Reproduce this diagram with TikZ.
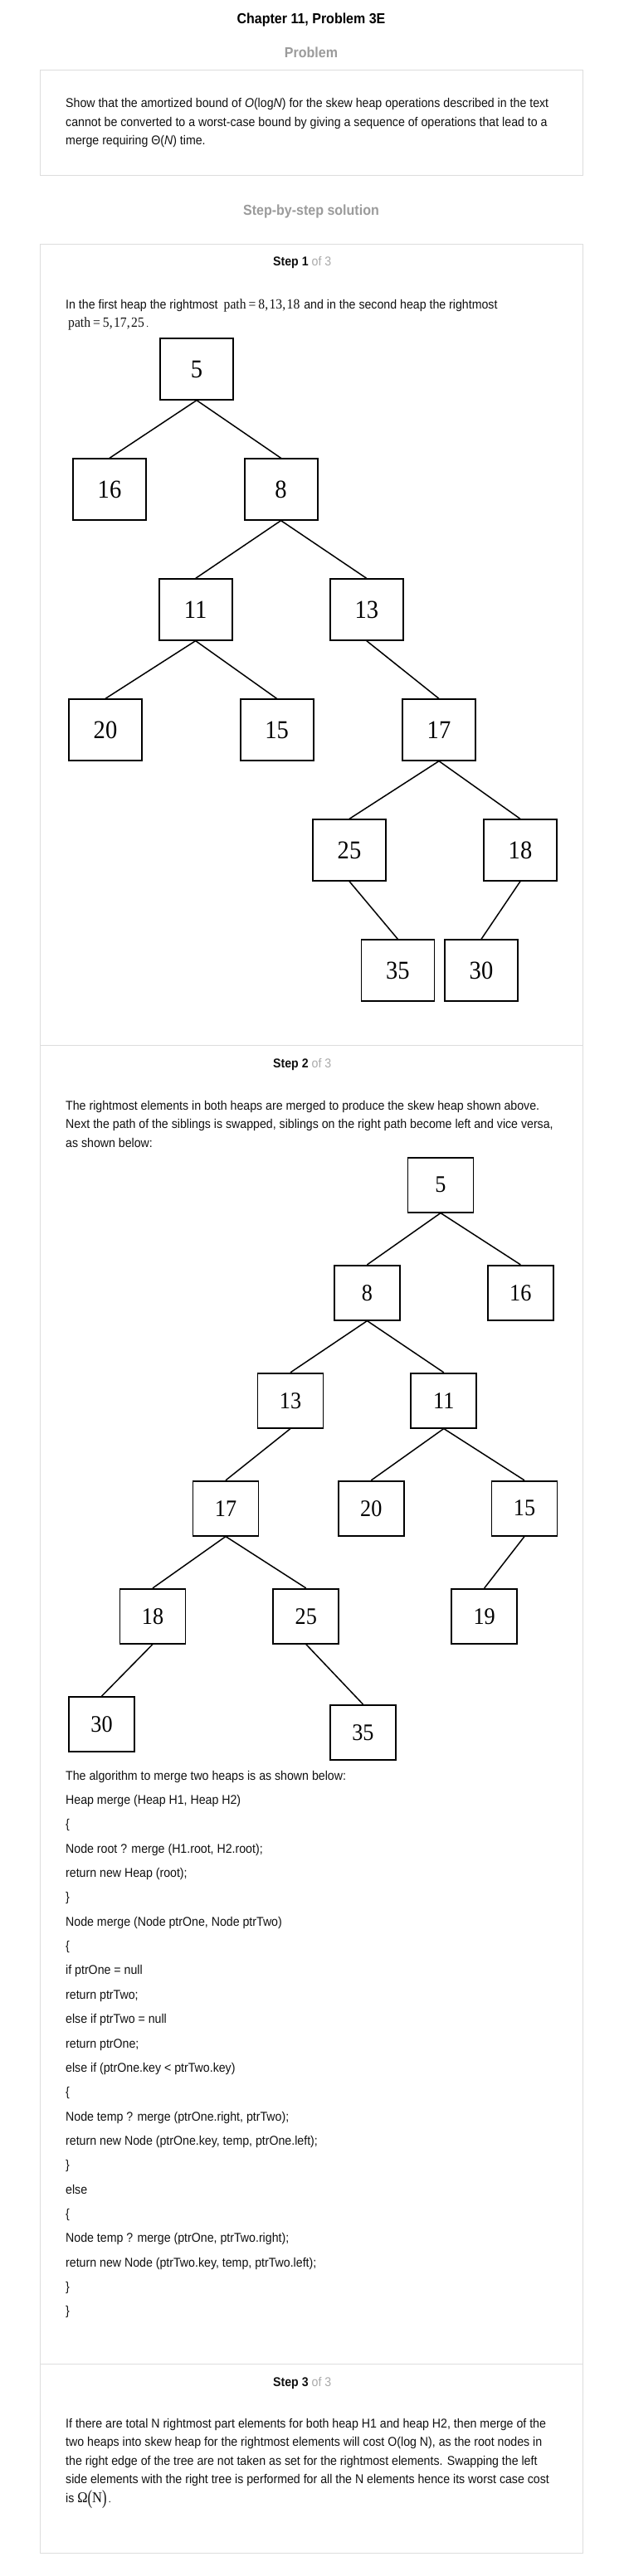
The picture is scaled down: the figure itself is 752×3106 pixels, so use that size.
\documentclass[tikz,border=0pt]{standalone}
\usepackage{fontspec}
\usepackage{graphicx}
\setmainfont[FakeStretch=0.92]{Liberation Sans}
\newfontfamily\serifc[FakeStretch=0.92]{Liberation Serif}
\definecolor{bordergray}{HTML}{DDDDDD}
\definecolor{headgray}{HTML}{9B9B9B}
\definecolor{ofgray}{HTML}{AAAAAA}
\definecolor{bodytext}{HTML}{111111}
\tikzset{
  txt/.style={anchor=base west, inner sep=0pt, text=bodytext, font=\fontsize{15.4}{18}\selectfont},
  headtxt/.style={anchor=base, inner sep=0pt, font=\bfseries\fontsize{17.4}{20}\selectfont},
  boxA/.style={draw, line width=1.8pt, minimum width=88pt, minimum height=73.5pt, inner sep=0pt, font=\serifc\fontsize{31}{31}\selectfont},
  boxB/.style={draw, line width=1.7pt, minimum width=79pt, minimum height=66pt, inner sep=0pt, font=\serifc\fontsize{28.5}{28.5}\selectfont},
  treeline/.style={line width=1.5pt},
  frame/.style={draw=bordergray, line width=1pt},
}
\newcommand{\mth}[1]{{\serifc\fontsize{17}{17}\selectfont #1}}
\begin{document}
\begin{tikzpicture}[x=1pt,y=-1pt]
\fill[white] (0,0) rectangle (752,3106);
\useasboundingbox (0,0) rectangle (752,3106);

% ---------- header ----------
\node[headtxt] (title) at (375,28.3) {Chapter 11, Problem 3E};
\node[headtxt, text=headgray] (probhead) at (375,69.3) {Problem};
\draw[frame] (48,84) rectangle (702.6,211);
\node[txt] (q1) at (79,129.5) {Show that the amortized bound of \textit{O}(log\textit{N}) for the skew heap operations described in the text};
\node[txt] (q2) at (79,152) {cannot be converted to a worst-case bound by giving a sequence of operations that lead to a};
\node[txt] (q3) at (79,174.5) {merge requiring Θ(\textit{N}) time.};
\node[headtxt, text=headgray] (sbs) at (375,259) {Step-by-step solution};

% ---------- step frame ----------
\draw[frame] (48,294) rectangle (702.6,3078.3);
\draw[frame] (48,1260.7) -- (702.6,1260.7);
\draw[frame] (48,2850.7) -- (702.6,2850.7);

% ---------- step 1 ----------
\node[txt] (s1) at (329,320) {\textbf{Step 1} \textcolor{ofgray}{of 3}};
\node[txt] (p1a) at (79,372) {In the first heap the rightmost\hspace{7pt}\mth{path\hspace{3pt}=\hspace{3pt}8,\hspace{1.5pt}13,\hspace{1.5pt}18}\hspace{5pt}and in the second heap the rightmost};
\node[txt] (p1b) at (82,394) {\mth{path\hspace{3pt}=\hspace{3pt}5,\hspace{1.5pt}17,\hspace{1.5pt}25\hspace{2.5pt}{\fontsize{12}{12}\selectfont.}}};

\node[boxA] (a5)  at (237,445)   {5};
\node[boxA] (a16) at (132,590)   {16};
\node[boxA] (a8)  at (338.6,590) {8};
\node[boxA] (a11) at (235.7,735) {11};
\node[boxA] (a13) at (441.8,735) {13};
\node[boxA] (a20) at (127,880)   {20};
\node[boxA] (a15) at (333.6,880) {15};
\node[boxA] (a17) at (529,880)   {17};
\node[boxA] (a25) at (421,1025)  {25};
\node[boxA] (a18) at (627,1025)  {18};
\node[boxA] (a35) at (479.4,1170) {35};
\node[boxA] (a30) at (580,1170)  {30};
\draw[treeline] (a5.south) -- (a16.north);
\draw[treeline] (a5.south) -- (a8.north);
\draw[treeline] (a8.south) -- (a11.north);
\draw[treeline] (a8.south) -- (a13.north);
\draw[treeline] (a11.south) -- (a20.north);
\draw[treeline] (a11.south) -- (a15.north);
\draw[treeline] (a13.south) -- (a17.north);
\draw[treeline] (a17.south) -- (a25.north);
\draw[treeline] (a17.south) -- (a18.north);
\draw[treeline] (a25.south) -- (a35.north);
\draw[treeline] (a18.south) -- (a30.north);

% ---------- step 2 ----------
\node[txt] (s2) at (329,1287) {\textbf{Step 2} \textcolor{ofgray}{of 3}};
\node[txt] (p2a) at (79,1338) {The rightmost elements in both heaps are merged to produce the skew heap shown above.};
\node[txt] (p2b) at (79,1360.5) {Next the path of the siblings is swapped, siblings on the right path become left and vice versa,};
\node[txt] (p2c) at (79,1383) {as shown below:};

\node[boxB] (b5)  at (531,1428.7)   {5};
\node[boxB] (b8)  at (442.5,1558.7) {8};
\node[boxB] (b16) at (627.3,1558.7) {16};
\node[boxB] (b13) at (350,1688.7)   {13};
\node[boxB] (b11) at (534.8,1688.7) {11};
\node[boxB] (b17) at (272,1818.7)   {17};
\node[boxB] (b20) at (447.3,1818.7) {20};
\node[boxB] (b15) at (632,1818.7)   {15};
\node[boxB] (b18) at (184,1948.7)   {18};
\node[boxB] (b25) at (368.8,1948.7) {25};
\node[boxB] (b19) at (583.7,1948.7) {19};
\node[boxB] (b30) at (122.5,2079)   {30};
\node[boxB] (b35) at (437.4,2088.7) {35};
\draw[treeline] (b5.south) -- (b8.north);
\draw[treeline] (b5.south) -- (b16.north);
\draw[treeline] (b8.south) -- (b13.north);
\draw[treeline] (b8.south) -- (b11.north);
\draw[treeline] (b13.south) -- (b17.north);
\draw[treeline] (b11.south) -- (b20.north);
\draw[treeline] (b11.south) -- (b15.north);
\draw[treeline] (b17.south) -- (b18.north);
\draw[treeline] (b17.south) -- (b25.north);
\draw[treeline] (b15.south) -- (b19.north);
\draw[treeline] (b18.south) -- (b30.north);
\draw[treeline] (b25.south) -- (b35.north);

% ---------- code ----------
\node[txt] (c0)  at (79,2146.0) {The algorithm to merge two heaps is as shown below:};
\node[txt] (c1)  at (79,2175.4) {Heap merge (Heap H1, Heap H2)};
\node[txt] (c2)  at (79,2204.7) {\{};
\node[txt] (c3)  at (79,2234.1) {Node root ? merge (H1.root, H2.root);};
\node[txt] (c4)  at (79,2263.4) {return new Heap (root);};
\node[txt] (c5)  at (79,2292.8) {\}};
\node[txt] (c6)  at (79,2322.2) {Node merge (Node ptrOne, Node ptrTwo)};
\node[txt] (c7)  at (79,2351.5) {\{};
\node[txt] (c8)  at (79,2380.9) {if ptrOne = null};
\node[txt] (c9)  at (79,2410.2) {return ptrTwo;};
\node[txt] (c10) at (79,2439.6) {else if ptrTwo = null};
\node[txt] (c11) at (79,2469.0) {return ptrOne;};
\node[txt] (c12) at (79,2498.3) {else if (ptrOne.key < ptrTwo.key)};
\node[txt] (c13) at (79,2527.7) {\{};
\node[txt] (c14) at (79,2557.0) {Node temp ? merge (ptrOne.right, ptrTwo);};
\node[txt] (c15) at (79,2586.4) {return new Node (ptrOne.key, temp, ptrOne.left);};
\node[txt] (c16) at (79,2615.8) {\}};
\node[txt] (c17) at (79,2645.1) {else};
\node[txt] (c18) at (79,2674.5) {\{};
\node[txt] (c19) at (79,2703.8) {Node temp ? merge (ptrOne, ptrTwo.right);};
\node[txt] (c20) at (79,2733.2) {return new Node (ptrTwo.key, temp, ptrTwo.left);};
\node[txt] (c21) at (79,2762.6) {\}};
\node[txt] (c22) at (79,2791.9) {\}};

% ---------- step 3 ----------
\node[txt] (s3) at (329,2877.5) {\textbf{Step 3} \textcolor{ofgray}{of 3}};
\node[txt] (p3a) at (79,2927) {If there are total N rightmost part elements for both heap H1 and heap H2, then merge of the};
\node[txt] (p3b) at (79,2949.5) {two heaps into skew heap for the rightmost elements will cost O(log N), as the root nodes in};
\node[txt] (p3c) at (79,2972) {the right edge of the tree are not taken as set for the rightmost elements. Swapping the left};
\node[txt] (p3d) at (79,2994.5) {side elements with the right tree is performed for all the N elements hence its worst case cost};
\node[txt] (p3e) at (79,3017) {is {\serifc\fontsize{18}{18}\selectfont Ω\raisebox{-2pt}{\scalebox{1}[1.35]{(}}N\raisebox{-2pt}{\scalebox{1}[1.35]{)}}}{\serifc\fontsize{13}{13}\selectfont\,.}};
\end{tikzpicture}
\end{document}
